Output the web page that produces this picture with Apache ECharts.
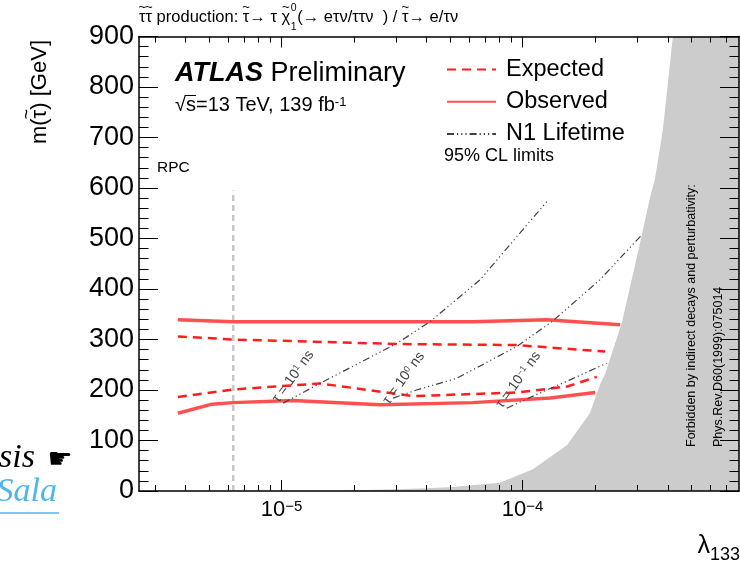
<!DOCTYPE html>
<html>
<head>
<meta charset="utf-8">
<title>λ133 limits</title>
<script src="https://cdn.jsdelivr.net/npm/echarts@6.0.0/dist/echarts.min.js"></script>
<style>
html, body { margin: 0; padding: 0; background: #fff; }
#chart { width: 740px; height: 565px; }
</style>
</head>
<body>
<div id="chart"></div>
<script>
// ---------------- data ----------------
// x: coupling λ133 (log scale), y: stau mass m(τ̃) in GeV
const xRange = [2.56e-6, 7.9e-4];
const yRange = [0, 900];
const yTickStep = 100;
const xLabelTicks = [1e-5, 1e-4];
const xMinorTicks = [3e-6, 4e-6, 5e-6, 6e-6, 7e-6, 8e-6, 9e-6,
  2e-5, 3e-5, 4e-5, 5e-5, 6e-5, 7e-5, 8e-5, 9e-5,
  2e-4, 3e-4, 4e-4, 5e-4, 6e-4, 7e-4];

// observed 95% CL limit: upper and lower edges of the excluded band
const obsUpperLambda = [3.71e-6, 6.28e-6, 1.27e-5, 6.21e-5, 1.26e-4, 2.54e-4];
const obsUpperMass   = [339, 335, 335, 335, 339, 329];
const obsLowerLambda = [3.71e-6, 5.14e-6, 6.28e-6, 1.11e-5, 2.56e-5, 6.21e-5, 1.30e-4, 2.00e-4];
const obsLowerMass   = [154, 172, 175, 179, 171, 175, 184, 195];

// expected 95% CL limit
const expUpperLambda = [3.71e-6, 6.28e-6, 3.10e-5, 9.46e-5, 2.20e-4];
const expUpperMass   = [306, 300, 291, 289, 276];
const expLowerLambda = [3.71e-6, 6.28e-6, 1.44e-5, 3.51e-5, 9.46e-5, 1.53e-4, 2.03e-4];
const expLowerMass   = [186, 201, 213, 188, 195, 207, 226];

// constant N1 lifetime contours: 10 ns, 1 ns, 0.1 ns
const lifetimeExponents = ['1', '0', '\u22121'];
const life10Lambda = [1.015e-5, 1.44e-5, 3.00e-5, 4.12e-5, 6.65e-5, 1.259e-4];
const life10Mass   = [174, 213, 292, 335, 418, 573];
const life1Lambda  = [2.90e-5, 3.63e-5, 5.32e-5, 9.44e-5, 1.32e-4, 2.09e-4, 3.16e-4];
const life1Mass    = [184, 200, 223, 286, 335, 418, 510];
const life01Lambda = [8.59e-5, 1.18e-4, 1.57e-4, 2.23e-4];
const life01Mass   = [164, 194, 220, 253];

// boundary of the region forbidden by indirect decays and perturbativity
const forbidLambda = [1.585e-5, 1.98e-5, 3.10e-5, 4.99e-5, 8.04e-5, 1.103e-4, 1.53e-4, 1.90e-4,
  2.09e-4, 2.20e-4, 2.58e-4, 3.07e-4, 3.38e-4, 3.54e-4, 3.82e-4, 4.20e-4];
const forbidMass   = [0, 1.4, 3.4, 7.3, 16.4, 42.9, 91.1, 153.9,
  210, 232, 333, 491, 582, 618, 717, 900];

// RPC reference line
const rpcLambda = 6.3e-6;
const rpcMassTop = 595;

// ---------------- helpers ----------------
const F = '"Liberation Sans", Arial, Helvetica, sans-serif';
const pairs = (xs, ys) => xs.map((x, i) => [x, ys[i]]);
const measureCtx = document.createElement('canvas').getContext('2d');
const measure = (str, font) => { measureCtx.font = font; return measureCtx.measureText(str).width; };
const supText = (v) => {
  const e = Math.round(Math.log10(v));
  return '{b|10}{s|' + (e < 0 ? '\u2212' + (-e) : e) + '}';
};

// Text with combining tildes (U+0303) drawn as separate marks above their letters.
function accented(x, y, str, size, fill, align) {
  const font = size + 'px ' + F;
  const base = str.replace(/\u0303/g, '');
  const marks = [];
  let k = 0;
  for (const ch of str) { if (ch === '\u0303') marks.push(k - 1); else k++; }
  const total = measure(base, font);
  const x0 = align === 'right' ? x - total : x;
  const els = [{ type: 'text', z: 100, silent: true, x: x0, y: y,
    style: { text: base, font: font, fill: fill, align: 'left', verticalAlign: 'middle' } }];
  marks.forEach(i => {
    const pre = measure(base.slice(0, i), font), cw = measure(base[i], font);
    els.push({ type: 'text', z: 100, silent: true, x: x0 + pre + cw / 2, y: y - size * 0.6,
      style: { text: '~', font: (size * 0.8) + 'px ' + F, fill: fill, align: 'center', verticalAlign: 'middle' } });
  });
  return { els: els, width: total };
}

const lineCol = '#000';
const xAxisBase = {
  type: 'log', logBase: 10, min: xRange[0], max: xRange[1], z: 10,
  splitLine: { show: false }, minorTick: { show: false },
  axisLine: { show: true, onZero: false, lineStyle: { color: lineCol, width: 1.5 } }
};
const yAxisBase = {
  type: 'value', min: yRange[0], max: yRange[1], interval: yTickStep, z: 10,
  splitLine: { show: false }, minorSplitLine: { show: false },
  axisLine: { show: true, onZero: false, lineStyle: { color: lineCol, width: 1.5 } },
  axisTick: { show: true, inside: true, length: 19, lineStyle: { color: lineCol, width: 1 } },
  minorTick: { show: true, splitNumber: 5, length: 9.5, lineStyle: { color: lineCol, width: 1 } }
};

const redObs = { color: '#ff5050', width: 3.5, type: 'solid' };
const redExp = { color: '#ff1e1e', width: 2.5, type: [9, 6] };
const lifeStyle = { color: '#404040', width: 1.2, type: [7, 3, 1.2, 3, 1.2, 3, 1.2, 3] };

const lineSeries = (name, xs, ys, style, z) => ({
  name, type: 'line', data: pairs(xs, ys), symbol: 'none', showSymbol: false,
  lineStyle: style, itemStyle: { color: style.color }, z: z, silent: true,
  xAxisIndex: 0, yAxisIndex: 0
});

const chart = echarts.init(document.getElementById('chart'), null, { renderer: 'canvas', width: 740, height: 565 });

chart.setOption({
  animation: false,
  backgroundColor: '#fff',
  grid: { left: 139, right: 1, top: 36.5, bottom: 74, containLabel: false, outerBoundsMode: 'none' },
  xAxis: [
    Object.assign({}, xAxisBase, {
      position: 'bottom',
      axisTick: { show: true, inside: true, length: 11, customValues: xLabelTicks, lineStyle: { color: lineCol, width: 1 } },
      axisLabel: {
        show: true, customValues: xLabelTicks, margin: 8, formatter: supText,
        rich: {
          b: { fontSize: 22, fontFamily: F, color: '#000' },
          s: { fontSize: 15, fontFamily: F, color: '#000', verticalAlign: 'top' }
        }
      }
    }),
    Object.assign({}, xAxisBase, {
      position: 'top',
      axisTick: { show: true, inside: true, length: 11, customValues: xLabelTicks, lineStyle: { color: lineCol, width: 1 } },
      axisLabel: { show: false }
    }),
    Object.assign({}, xAxisBase, {
      position: 'bottom',
      axisLine: { show: false, onZero: false },
      axisTick: { show: true, inside: true, length: 6, customValues: xMinorTicks, lineStyle: { color: lineCol, width: 1 } },
      axisLabel: { show: false }
    }),
    Object.assign({}, xAxisBase, {
      position: 'top',
      axisLine: { show: false, onZero: false },
      axisTick: { show: true, inside: true, length: 6, customValues: xMinorTicks, lineStyle: { color: lineCol, width: 1 } },
      axisLabel: { show: false }
    })
  ],
  yAxis: [
    Object.assign({}, yAxisBase, {
      position: 'left',
      axisLabel: { show: true, fontSize: 27, fontFamily: F, color: '#000', margin: 5 }
    }),
    Object.assign({}, yAxisBase, {
      position: 'right',
      axisLabel: { show: false }
    })
  ],
  legend: {
    left: 446, top: 57.5, orient: 'vertical', selectedMode: false,
    itemWidth: 49, itemHeight: 14, itemGap: 8.2, padding: 0,
    itemStyle: { opacity: 0 },
    textStyle: { fontSize: 23.5, fontFamily: F, color: '#000', padding: [0, 0, 0, 5] },
    data: ['Expected', 'Observed', 'N1 Lifetime']
  },
  series: [
    lineSeries('RPC', [rpcLambda, rpcLambda], [0, rpcMassTop], { color: '#c8c8c8', width: 2.5, type: [6, 4] }, 2),
    lineSeries('Expected', expUpperLambda, expUpperMass, redExp, 3),
    lineSeries('Expected', expLowerLambda, expLowerMass, redExp, 3),
    lineSeries('Observed', obsUpperLambda, obsUpperMass, redObs, 3),
    lineSeries('Observed', obsLowerLambda, obsLowerMass, redObs, 3),
    lineSeries('N1 Lifetime', life10Lambda, life10Mass, lifeStyle, 3),
    lineSeries('N1 Lifetime', life1Lambda, life1Mass, lifeStyle, 3),
    lineSeries('N1 Lifetime', life01Lambda, life01Mass, lifeStyle, 3),
    {
      name: 'Forbidden', type: 'line', silent: true, symbol: 'none', showSymbol: false,
      data: pairs(forbidLambda, forbidMass).concat([[xRange[1], yRange[1]]]),
      lineStyle: { width: 0, color: '#cccccc' },
      areaStyle: { color: '#cccccc', opacity: 1 },
      z: 5
    }
  ]
});

// ---------------- text annotations ----------------
const gfx = [];
const txt = (x, y, text, font, extra) => Object.assign({
  type: 'text', x: x, y: y, z: 100, silent: true,
  style: { text: text, font: font, fill: '#000', align: 'left', verticalAlign: 'middle' }
}, extra || {});

// process title
const t1 = accented(139, 17.5, 'τ\u0303τ\u0303 production: τ\u0303→ τ χ\u0303', 16.5, '#000');
gfx.push(...t1.els);
const idxX = 139 + t1.width + 0.5;
gfx.push(txt(idxX, 8.5, '0', '10.5px ' + F));
gfx.push(txt(idxX, 27, '1', '10.5px ' + F));
gfx.push(...accented(idxX + 6.5, 17.5, '(→ eτν/ττν  ) / τ\u0303→ e/τν', 16.5, '#000').els);

// experiment label
gfx.push({
  type: 'text', x: 175, y: 73.5, z: 100, silent: true,
  style: {
    text: '{a|ATLAS}{b| Preliminary}', verticalAlign: 'middle', align: 'left',
    rich: {
      a: { fontSize: 27, fontWeight: 'bold', fontStyle: 'italic', fontFamily: F, fill: '#000' },
      b: { fontSize: 27, fontFamily: F, fill: '#000' }
    }
  }
});
const energyFont = '20px ' + F;
gfx.push({
  type: 'text', x: 175, y: 105.8, z: 100, silent: true,
  style: {
    text: '{a|√s=13 TeV, 139 fb}{s|-1}', verticalAlign: 'middle', align: 'left',
    rich: {
      a: { fontSize: 20, fontFamily: F, fill: '#000' },
      s: { fontSize: 13, fontFamily: F, fill: '#000', verticalAlign: 'top' }
    }
  }
});
const wRoot = measure('√', energyFont), wS = measure('s', energyFont);
gfx.push({
  type: 'line', z: 100, silent: true,
  shape: { x1: 175 + wRoot - 1, y1: 95.5, x2: 175 + wRoot + wS, y2: 95.5 },
  style: { stroke: '#000', lineWidth: 1 }
});
gfx.push(txt(444, 156, '95% CL limits', '18px ' + F));
gfx.push(txt(157, 167.5, 'RPC', '15.5px ' + F));

// axis titles
gfx.push({
  type: 'group', x: 40, y: 40, rotation: Math.PI / 2,
  children: accented(0, 0, 'm(τ\u0303) [GeV]', 22, '#000', 'right').els
});
gfx.push(txt(710, 546, 'λ', '25px ' + F));
gfx[gfx.length - 1].style.align = 'right';
gfx.push(txt(740, 555, '133', '18px ' + F));
gfx[gfx.length - 1].style.align = 'right';

// forbidden-region note
gfx.push(txt(692, 447, 'Forbidden by indirect decays and perturbativity:', '12.5px ' + F, { rotation: Math.PI / 2 }));
gfx.push(txt(719, 447, 'Phys.Rev.D60(1999):075014', '12.5px ' + F, { rotation: Math.PI / 2 }));

// lifetime contour labels, anchored at each contour's first point
const lifeStarts = [[life10Lambda[0], life10Mass[0]], [life1Lambda[0], life1Mass[0]], [life01Lambda[0], life01Mass[0]]];
const lifeLabelShift = [[10, -26.6], [10.7, -20], [11.6, -28.3]];
lifeStarts.forEach((p, i) => {
  const px = chart.convertToPixel({ xAxisIndex: 0, yAxisIndex: 0 }, p);
  gfx.push({
    type: 'text', z: 100, silent: true,
    x: px[0] + lifeLabelShift[i][0], y: px[1] + lifeLabelShift[i][1],
    rotation: 54 * Math.PI / 180,
    style: {
      text: '{t|τ = 10}{s|' + lifetimeExponents[i] + '}{t| ns}', align: 'center', verticalAlign: 'middle',
      rich: {
        t: { fontSize: 14, fontFamily: F, fill: '#444' },
        s: { fontSize: 9, fontFamily: F, fill: '#444', verticalAlign: 'top' }
      }
    }
  });
});

// link snippet at the lower left
const serifItalic = 'italic 34px "Liberation Serif", "DejaVu Serif", serif';
gfx.push(txt(35, 458, 'sis', serifItalic));
gfx[gfx.length - 1].style.align = 'right';
gfx.push(txt(60, 461, '\u261B', '28px "DejaVu Sans", sans-serif'));
gfx[gfx.length - 1].style.align = 'center';
gfx.push(txt(57, 492, 'Sala', serifItalic));
gfx[gfx.length - 1].style.align = 'right';
gfx[gfx.length - 1].style.fill = '#4db6ea';
gfx.push({
  type: 'line', z: 100, silent: true,
  shape: { x1: 0, y1: 513, x2: 59, y2: 513 },
  style: { stroke: '#4db6ea', lineWidth: 1.5 }
});

chart.setOption({ graphic: gfx });
</script>
</body>
</html>
